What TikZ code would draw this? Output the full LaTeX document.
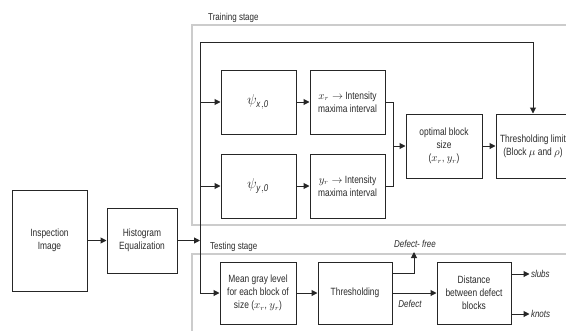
\documentclass[tikz,border=0pt]{standalone}
\usepackage{fontspec}
\setmainfont{Liberation Sans}[FakeStretch=0.8]
\usetikzlibrary{arrows.meta}
\definecolor{linec}{HTML}{262626}
\definecolor{txt}{HTML}{2A2A2A}
\definecolor{panelc}{HTML}{CCCCCC}
\begin{document}
\begin{tikzpicture}[x=1pt,y=-1pt,
  box/.style={draw=linec, line width=1pt, minimum width=75pt, minimum height=64pt, inner sep=1pt, align=center, font=\fontsize{10.5}{13}\selectfont, text=txt},
  arr/.style={draw=linec, line width=1pt, -{Triangle[length=6pt,width=6pt]}},
  ln/.style={draw=linec, line width=1pt},
  panel/.style={draw=panelc, line width=1.2pt},
  stage/.style={font=\fontsize{10}{12}\selectfont, text=txt, inner sep=0pt, anchor=west},
  lbl/.style={font=\fontsize{10}{12}\selectfont\itshape, text=txt, inner sep=1pt}]
\useasboundingbox (0,0) rectangle (566,330);
% panels
\draw[panel] (192,25) rectangle (620,225);
\draw[panel] (192,254) rectangle (620,345);
\node[stage] (trl) at (208,18) {Training stage};
\node[stage] (tsl) at (210,247) {Testing stage};
% boxes
\node[box, minimum width=75pt, minimum height=101pt] (insp) at (49.5,240.5) {Inspection\\Image};
\node[box, minimum width=70pt, minimum height=65pt] (hist) at (142,240.5) {Histogram\\Equalization};
\node[box, font=\fontsize{14}{16}\selectfont] (psix) at (258.5,102) {$\psi_{\mathit{x,0}}$};
\node[box] (xr) at (347.5,102) {$x_r\rightarrow$ Intensity\\maxima interval};
\node[box, font=\fontsize{14}{16}\selectfont] (psiy) at (258.5,186) {$\psi_{\mathit{y,0}}$};
\node[box] (yr) at (347.5,186) {$y_r\rightarrow$ Intensity\\maxima interval};
\node[box, minimum width=76pt] (opt) at (444,146) {optimal block\\size\\($x_r$, $y_r$)};
\node[box, minimum width=74pt] (thl) at (533,146) {Thresholding limit\\(Block $\mu$ and $\rho$)};
\node[box, minimum width=76pt, minimum height=62pt] (mean) at (258,293) {Mean gray level\\for each block of\\size ($x_r$, $y_r$)};
\node[box, minimum width=74pt, minimum height=62pt] (thr) at (355,293) {Thresholding};
\node[box, minimum width=74pt, minimum height=62pt] (dist) at (474,293) {Distance\\between defect\\blocks};
% connectors
\coordinate (vt) at (200,42);
\coordinate (vb) at (200,293);
\coordinate (j) at (200,240.5);
\coordinate (m) at (393,146);
\coordinate (df) at (414,252);
\draw[arr] (insp) -- (hist);
\draw[arr] (hist) -- (j);
\draw[ln] (vt) -- (vb);
\draw[arr] (vt) -| (thl.north);
\draw[arr] (vb) -- (mean.west);
\draw[arr] (psix.west -| vt) -- (psix.west);
\draw[arr] (psiy.west -| vt) -- (psiy.west);
\draw[arr] (psix) -- (xr);
\draw[arr] (psiy) -- (yr);
\draw[ln] (xr.east) -| (m);
\draw[ln] (yr.east) -| (m);
\draw[arr] (m) -- (opt.west);
\draw[arr] (opt) -- (thl);
\draw[arr] (mean) -- (thr);
\draw[arr] ([yshift=20pt]thr.east) -| (df);
\draw[arr] (thr) -- (dist);
\node[lbl] (dfl) at (415,244) {Defect- free};
\node[lbl] (dl) at (410,304) {Defect};
\draw[arr] ([yshift=19pt]dist.east) -- ++(18,0) node[lbl, anchor=west] (sl) {slubs};
\draw[arr] ([yshift=-21pt]dist.east) -- ++(18,0) node[lbl, anchor=west] (kn) {knots};
\end{tikzpicture}
\end{document}
